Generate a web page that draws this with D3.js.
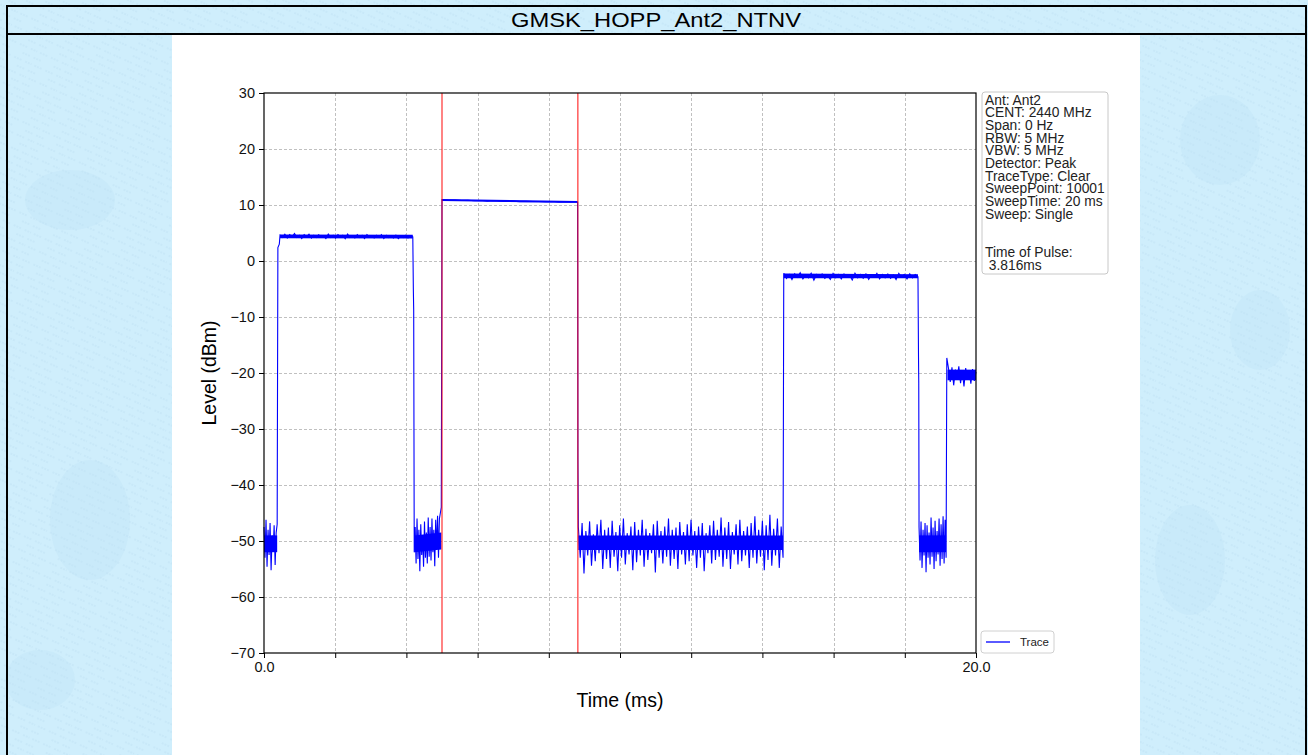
<!DOCTYPE html>
<html>
<head>
<meta charset="utf-8">
<script src="https://cdn.jsdelivr.net/npm/d3@7"></script>
<style>
  html, body { margin: 0; padding: 0; background: #cfeefc; }
  svg { display: block; font-family: 'Liberation Sans', Arial, sans-serif; }
</style>
</head>
<body>
<svg id="chart" width="1308" height="755"></svg>
<script>
'use strict';

const chartTitle = 'GMSK_HOPP_Ant2_NTNV';
const xDomain = [0, 20];
const yDomain = [-70, 30];
const xTickValues = [0, 2, 4, 6, 8, 10, 12, 14, 16, 18, 20];
const xTickLabels = ['0.0', '', '', '', '', '', '', '', '', '', '20.0'];
const yTickValues = [30, 20, 10, 0, -10, -20, -30, -40, -50, -60, -70];
const markerTimes = [5.0, 8.816];

const infoLines = [
  'Ant: Ant2', 'CENT: 2440 MHz', 'Span: 0 Hz', 'RBW: 5 MHz', 'VBW: 5 MHz',
  'Detector: Peak', 'TraceType: Clear', 'SweepPoint: 10001',
  'SweepTime: 20 ms', 'Sweep: Single', '', '', 'Time of Pulse:', ' 3.816ms',
];

// trace pieces, each spread evenly over its [start, end] time in ms
const noiseA = [-47.5, -53.0, -46.2, -54.6, -48.0, -52.5, -46.8, -55.2, -49.0,
  -51.8, -47.2, -54.3, -48.5, -47.0];
const pulseA = [4.6, 4.2, 4.8, 4.1, 4.7, 4.3, 4.9, 4.2, 4.6, 4.0, 4.7, 4.3, 4.8,
  4.1, 4.6, 4.2, 4.7, 4.3, 4.5, 4.0, 4.8, 4.2, 4.6, 4.1, 4.7, 4.3, 4.6, 4.0,
  4.8, 4.2, 4.5, 4.1, 4.7, 4.2, 4.6, 4.0, 4.7, 4.3, 4.5, 4.1, 4.6, 4.2, 4.7,
  4.0, 4.6, 4.2, 4.5, 4.1, 4.6, 4.0, 4.5, 4.2, 4.6, 4.1, 4.5, 4.3];
const noiseB = [-52.0, -47.5, -54.0, -46.0, -53.2, -48.0, -55.4, -47.0, -52.5,
  -49.0, -54.6, -46.5, -53.0, -48.5, -54.0, -45.8, -52.8, -47.5, -53.5, -46.0,
  -52.0, -48.0, -54.5, -46.2, -51.5, -45.5, -53.0, -46.0, -45.0, -44.0];
const pulseB = [10.95, 10.85, 10.9, 10.8, 10.85, 10.75, 10.8, 10.7, 10.75, 10.7,
  10.65, 10.7, 10.6, 10.65, 10.6, 10.6, 10.55, 10.6, 10.5, 10.55, 10.5, 10.5];
const noiseC = [-47.5, -53.0, -46.8, -55.8, -48.2, -52.6, -46.5, -54.4, -48.8,
  -53.6, -47.0, -52.2, -46.2, -55.0, -48.0, -53.2, -47.6, -54.8, -46.4, -52.8,
  -48.4, -55.4, -47.2, -53.0, -46.0, -54.2, -48.6, -52.4, -47.4, -55.2, -46.6,
  -53.8, -48.0, -52.6, -46.2, -54.6, -47.8, -53.4, -48.6, -52.2, -47.0, -55.6,
  -46.4, -53.0, -48.2, -54.0, -47.4, -52.8, -46.0, -54.4, -48.0, -53.2, -47.6,
  -55.0, -46.6, -52.4, -48.4, -54.2, -47.0, -53.6, -46.2, -52.6, -48.2, -54.8,
  -47.4, -53.0, -46.8, -55.4, -48.6, -52.2, -47.2, -54.0, -46.4, -53.4, -48.0,
  -52.8, -45.8, -54.6, -47.6, -53.2, -46.6, -55.0, -48.4, -52.4, -47.0, -54.2,
  -46.2, -53.6, -48.2, -52.6, -47.4, -54.8, -46.8, -53.0, -45.6, -54.0, -48.0,
  -52.8, -46.4, -55.2, -47.2, -53.4, -45.3, -54.4, -47.8, -52.6, -46.0, -54.8,
  -47.4, -53.0];
const pulseC = [-2.2, -3.1, -2.4, -3.3, -2.3, -2.9, -2.1, -3.2, -2.5, -3.0, -2.2,
  -3.4, -2.4, -2.9, -2.3, -3.1, -2.6, -3.3, -2.2, -3.0, -2.4, -3.2, -2.3, -2.9,
  -2.5, -3.4, -2.2, -3.0, -2.4, -3.1, -2.3, -3.3, -2.5, -2.9, -2.2, -3.2, -2.4,
  -3.0, -2.3, -3.1, -2.5, -3.3, -2.2, -2.9, -2.4, -3.2, -2.3, -3.0, -2.4, -2.8];
const noiseD = [-47.5, -53.5, -46.5, -54.8, -48.0, -52.6, -46.8, -55.6, -47.2,
  -53.0, -48.5, -54.2, -45.8, -52.8, -47.6, -55.0, -46.4, -53.6, -48.2, -52.4,
  -46.0, -54.4, -47.0, -53.2, -45.6, -54.0, -46.2, -53.0];
const tailE = [-17.3, -19.2, -21.6, -19.0, -22.2, -19.4, -21.0, -18.8, -21.8,
  -19.6, -22.4, -19.1, -21.2, -19.5, -21.9, -19.3, -21.4, -19.8];

// [start ms, end ms] of each piece above
const pieceSpans = [[0, 0.37], [0.45, 4.18], [4.22, 4.98], [5.0, 8.81],
  [8.83, 14.58], [14.6, 18.37], [18.4, 19.16], [19.18, 20]];
// single points on the edges between pieces: [ms, dBm]
const edgePoints = [
  [[0.39, 2.4], [0.43, 3.0]],
  [[4.195, -5.0], [4.205, -8.7]],
  [],
  [[8.818, -35.5]],
  [],
  [[18.385, -17.0], [18.392, -21.8]],
  [],
];

// dense core of each piece, where the 10001 samples merge: [ms, top, bottom]
const coreBands = [
  [[0.0, -49.0, -52.0], [0.37, -49.0, -52.0]],
  [[0.45, 4.75, 4.05], [4.18, 4.7, 4.0]],
  [[4.22, -49.0, -52.0], [4.98, -48.5, -51.5]],
  [[5.0, 11.05, 10.7], [8.81, 10.72, 10.38]],
  [[8.83, -49.0, -51.6], [14.58, -49.0, -51.6]],
  [[14.6, -2.25, -3.1], [18.37, -2.35, -3.1]],
  [[18.4, -49.0, -52.0], [19.16, -49.0, -52.0]],
  [[19.2, -19.4, -21.3], [20, -19.4, -21.3]],
];

const pieces = [noiseA, pulseA, noiseB, pulseB, noiseC, pulseC, noiseD, tailE];

const buildTrace = () => {
  const out = [];
  pieces.forEach((vals, i) => {
    const [t0, t1] = pieceSpans[i];
    const step = (t1 - t0) / (vals.length - 1);
    vals.forEach((v, j) => out.push([t0 + j * step, v]));
    if (edgePoints[i]) edgePoints[i].forEach((p) => out.push(p));
  });
  return out;
};

const W = 1308;
const H = 755;
const plot = { left: 264, right: 976, top: 93, bottom: 653 };

const svg = d3.select('#chart');
const defs = svg.append('defs');

// faint watermark texture of the page background
const pat = defs
  .append('pattern')
  .attr('id', 'wm')
  .attr('width', 34)
  .attr('height', 14)
  .attr('patternUnits', 'userSpaceOnUse')
  .attr('patternTransform', 'rotate(24)');
pat.append('rect').attr('width', 34).attr('height', 14).attr('fill', '#cfeefc');
[[2, 4, 9], [14, 4, 7], [24, 4, 8], [8, 11, 8], [20, 11, 9]].forEach((d) =>
  pat
    .append('line')
    .attr('x1', d[0])
    .attr('x2', d[0] + d[2])
    .attr('y1', d[1])
    .attr('y2', d[1])
    .attr('stroke', '#c1e3f5')
    .attr('stroke-width', 1.1)
    .attr('stroke-dasharray', '2,1')
);

svg.append('rect').attr('width', W).attr('height', H).attr('fill', 'url(#wm)');

// soft darker blotches
const blotches = [[70, 200, 45, 30], [1220, 140, 40, 45], [1190, 560, 35, 55],
  [90, 520, 40, 60], [1260, 330, 30, 40], [40, 680, 35, 30]];
svg
  .selectAll('.blot')
  .data(blotches)
  .enter()
  .append('ellipse')
  .attr('class', 'blot')
  .attr('cx', (d) => d[0])
  .attr('cy', (d) => d[1])
  .attr('rx', (d) => d[2])
  .attr('ry', (d) => d[3])
  .attr('fill', '#bde2f5')
  .attr('opacity', 0.3);

// white chart image
svg
  .append('rect')
  .attr('x', 172)
  .attr('y', 35)
  .attr('width', 968)
  .attr('height', H - 35)
  .attr('fill', '#fff');

// frame and title bar
svg
  .append('rect')
  .attr('x', 7)
  .attr('y', 6)
  .attr('width', 1299)
  .attr('height', H + 10)
  .attr('fill', 'none')
  .attr('stroke', '#000')
  .attr('stroke-width', 2);
svg
  .append('line')
  .attr('x1', 7)
  .attr('x2', 1306)
  .attr('y1', 34)
  .attr('y2', 34)
  .attr('stroke', '#000')
  .attr('stroke-width', 2);
svg
  .append('text')
  .attr('x', 656)
  .attr('y', 27)
  .attr('text-anchor', 'middle')
  .attr('font-size', 21)
  .attr('textLength', 290)
  .attr('lengthAdjust', 'spacingAndGlyphs')
  .text(chartTitle);

const x = d3.scaleLinear().domain(xDomain).range([plot.left, plot.right]);
const y = d3.scaleLinear().domain(yDomain).range([plot.bottom, plot.top]);

const g = svg.append('g');

// grid
g
  .selectAll('.vgrid')
  .data(xTickValues.slice(1, -1))
  .enter()
  .append('line')
  .attr('x1', (d) => Math.round(x(d)) + 0.5)
  .attr('x2', (d) => Math.round(x(d)) + 0.5)
  .attr('y1', plot.top)
  .attr('y2', plot.bottom)
  .attr('stroke', '#b0b0b0')
  .attr('stroke-width', 0.8)
  .attr('stroke-dasharray', '3,2');
g
  .selectAll('.hgrid')
  .data(yTickValues.slice(1, -1))
  .enter()
  .append('line')
  .attr('x1', plot.left)
  .attr('x2', plot.right)
  .attr('y1', (d) => Math.round(y(d)) + 0.5)
  .attr('y2', (d) => Math.round(y(d)) + 0.5)
  .attr('stroke', '#b0b0b0')
  .attr('stroke-width', 0.8)
  .attr('stroke-dasharray', '3,2');

// trace: merged core bands, then the sample line over them
const band = d3
  .area()
  .x((d) => x(d[0]))
  .y0((d) => y(d[2]))
  .y1((d) => y(d[1]));
g
  .selectAll('.core')
  .data(coreBands)
  .enter()
  .append('path')
  .attr('class', 'core')
  .attr('d', band)
  .attr('fill', '#0000ff');

const line = d3
  .line()
  .x((d) => x(d[0]))
  .y((d) => y(d[1]));
g
  .append('path')
  .datum(buildTrace())
  .attr('d', line)
  .attr('fill', 'none')
  .attr('stroke', '#0000ff')
  .attr('stroke-width', 1.1)
  .attr('stroke-linejoin', 'miter');

// pulse markers
g
  .selectAll('.marker')
  .data(markerTimes)
  .enter()
  .append('line')
  .attr('x1', (d) => x(d))
  .attr('x2', (d) => x(d))
  .attr('y1', plot.top)
  .attr('y2', plot.bottom)
  .attr('stroke', '#ff0000')
  .attr('stroke-opacity', 0.75)
  .attr('stroke-width', 1.3);

// axes
const xAxis = d3
  .axisBottom(x)
  .tickValues(xTickValues)
  .tickSize(5)
  .tickPadding(4)
  .tickFormat((d, i) => xTickLabels[i]);
const yAxis = d3
  .axisLeft(y)
  .tickValues(yTickValues)
  .tickSize(5)
  .tickPadding(4)
  .tickFormat((d) => (d < 0 ? '\u2212' + Math.abs(d) : d));

const styleAxis = (sel) => {
  sel.select('.domain').remove();
  sel.selectAll('line').attr('stroke', '#000').attr('stroke-width', 1);
  sel
    .selectAll('text')
    .attr('fill', '#111')
    .attr('font-size', 14.5)
    .attr('font-family', "'Liberation Sans', Arial, sans-serif");
};
g
  .append('g')
  .attr('transform', 'translate(0,' + plot.bottom + ')')
  .call(xAxis)
  .call(styleAxis);
g
  .append('g')
  .attr('transform', 'translate(' + plot.left + ',0)')
  .call(yAxis)
  .call(styleAxis);

g
  .append('rect')
  .attr('x', plot.left)
  .attr('y', plot.top)
  .attr('width', plot.right - plot.left)
  .attr('height', plot.bottom - plot.top)
  .attr('fill', 'none')
  .attr('stroke', '#000')
  .attr('stroke-width', 1.2);

svg
  .append('text')
  .attr('x', (plot.left + plot.right) / 2)
  .attr('y', 707)
  .attr('text-anchor', 'middle')
  .attr('font-size', 19.5)
  .text('Time (ms)');
svg
  .append('text')
  .attr('transform', 'translate(216,' + (plot.top + plot.bottom) / 2 + ') rotate(-90)')
  .attr('text-anchor', 'middle')
  .attr('font-size', 19.5)
  .text('Level (dBm)');

// info box
const info = svg.append('g').attr('transform', 'translate(982,92)');
info
  .append('rect')
  .attr('width', 126)
  .attr('height', 182)
  .attr('rx', 3)
  .attr('fill', '#fff')
  .attr('stroke', '#c8c8c8')
  .attr('stroke-width', 1);
info
  .selectAll('text')
  .data(infoLines)
  .enter()
  .append('text')
  .attr('x', 3)
  .attr('y', (d, i) => 12.5 + i * 12.7)
  .attr('font-size', 13.8)
  .attr('fill', '#222')
  .attr('xml:space', 'preserve')
  .text((d) => d);

// legend
const legend = svg.append('g').attr('transform', 'translate(981,631)');
legend
  .append('rect')
  .attr('width', 73)
  .attr('height', 22)
  .attr('rx', 3)
  .attr('fill', '#fff')
  .attr('stroke', '#d0d0d0');
legend
  .append('line')
  .attr('x1', 5)
  .attr('x2', 29)
  .attr('y1', 11)
  .attr('y2', 11)
  .attr('stroke', '#0000ff')
  .attr('stroke-width', 1.3);
legend
  .append('text')
  .attr('x', 39)
  .attr('y', 15)
  .attr('font-size', 11.5)
  .attr('fill', '#222')
  .text('Trace');
</script>
</body>
</html>
